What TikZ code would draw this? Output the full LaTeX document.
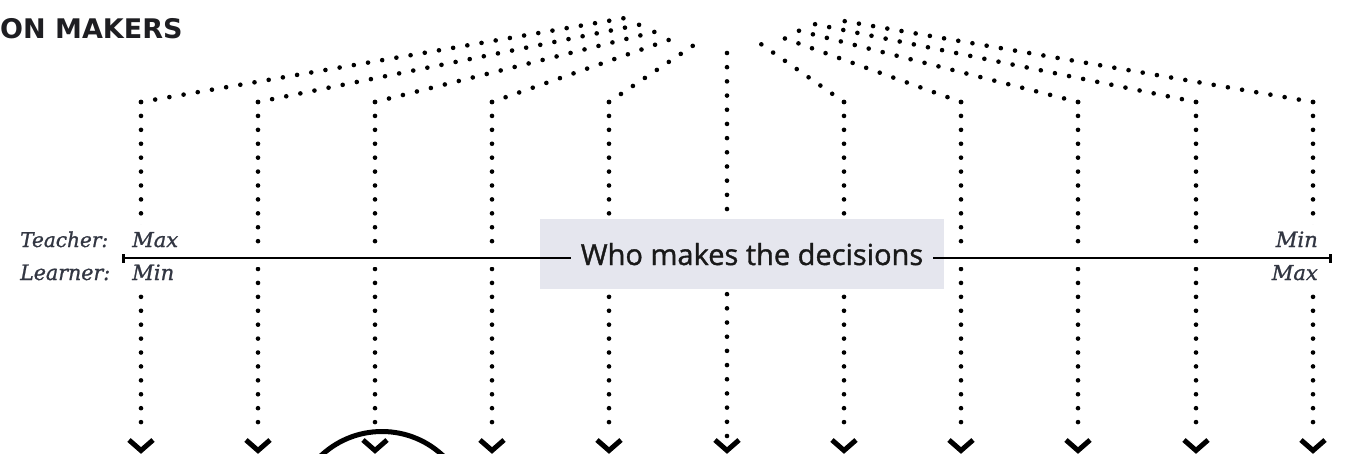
\documentclass[tikz,border=0pt]{standalone}
\usepackage{fontspec}
\setmainfont{DejaVu Serif}
\newfontfamily\titlefont{DejaVu Sans}
\newfontfamily\boxfont[FakeBold=1.2]{Open Sans}
\newfontfamily\labfont[FakeBold=1]{DejaVu Serif}
\definecolor{boxgray}{RGB}{229,230,238}
\definecolor{labgray}{RGB}{50,54,66}
\definecolor{titlegray}{RGB}{30,30,34}
\newcommand{\lbl}[3]{\resizebox{#1pt}{#2pt}{\labfont\itshape #3}}
\begin{document}
\begin{tikzpicture}[x=1pt,y=-1pt,
  vdots/.style={line width=4.6pt, line cap=round, dash pattern=on 0pt off 13.917pt, black},
  cdots/.style={line width=4.6pt, line cap=round, dash pattern=on 0pt off 14.185pt, black},
  ddots/.style={line width=4.6pt, line cap=round, dash pattern=on 0pt off 14.4pt, black},
  chev/.style={line width=5pt, line cap=butt, line join=miter, black},
  lab/.style={text=labgray, inner sep=0pt},
  maxmin/.style={lab, fill=white, inner xsep=2pt, inner ysep=7pt},
  scaleline/.style={line width=2pt, black},
]
\useasboundingbox (0,0) rectangle (1357,453);
\clip (0,0) rectangle (1357,453);

% column coordinates
\foreach \i/\x in {1/141,2/258,3/375,4/492,5/609,7/844,8/961,9/1078,10/1196,11/1313}{
  \coordinate (t\i) at (\x,102);
  \coordinate (b\i) at (\x,436);
}
\coordinate (t6) at (727,53);
\coordinate (b6) at (727,436);
% convergence end points
\coordinate (e1) at (625,18);
\coordinate (e2) at (643,24);
\coordinate (e3) at (662,30);
\coordinate (e4) at (680,36);
\coordinate (e5) at (697,43);
\coordinate (e7) at (758,42);
\coordinate (e8) at (778,36);
\coordinate (e9) at (796,30);
\coordinate (e10) at (814,24);
\coordinate (e11) at (832,19);

% dotted connectors
\foreach \i in {1,2,3,4,5,7,8,9,10,11}{
  \draw[vdots] (t\i) -- (b\i);
  \draw[ddots] (t\i) -- (e\i);
}
\draw[cdots] (t6) -- (b6);

% chevron arrow heads
\foreach \i in {1,...,11}{
  \draw[chev] ([shift={(-12,4)}]b\i) -- ([shift={(0,14.5)}]b\i) -- ([shift={(12,4)}]b\i);
}

% white halo around the scale line
\fill[white] (115,249) rectangle (1340,267);

% title
\node[anchor=base west, inner sep=0pt, font=\titlefont\bfseries\fontsize{27}{31}\selectfont, text=titlegray] (title) at (0,38) {ON MAKERS};

% labels
\node[lab, anchor=base west] (teacher) at (20,247) {\lbl{88}{15.5}{Teacher:}};
\node[lab, anchor=base west] (learner) at (20,280) {\lbl{90}{15.5}{Learner:}};
\node[maxmin, anchor=base west] (tmax) at (130,247) {\lbl{46}{15}{Max}};
\node[maxmin, anchor=base west] (lmin) at (130,280) {\lbl{42}{15.5}{Min}};
\node[maxmin, anchor=base east] (tmin) at (1320,247) {\lbl{42}{15.5}{Min}};
\node[maxmin, anchor=base east] (lmax) at (1320,280) {\lbl{46}{15}{Max}};

% box
\fill[boxgray] (540,219) rectangle (944,289);

% scale line with end bars
\coordinate (sl) at (123,258);
\coordinate (sr) at (1330,258);
\draw[scaleline] (sl) -- (sr);
\draw[line width=3pt] ([yshift=-4.5]sl) -- ([yshift=4.5]sl);
\draw[line width=3pt] ([yshift=-4.5]sr) -- ([yshift=4.5]sr);

% central text
\node[anchor=base, fill=boxgray, inner xsep=10pt, inner ysep=4pt, font=\boxfont\fontsize{29}{34}\selectfont, text=black!90] (who) at (752,265) {Who makes the decisions};

% circle
\draw[line width=5pt, black] (382,520.5) circle[radius=89];
\end{tikzpicture}
\end{document}
